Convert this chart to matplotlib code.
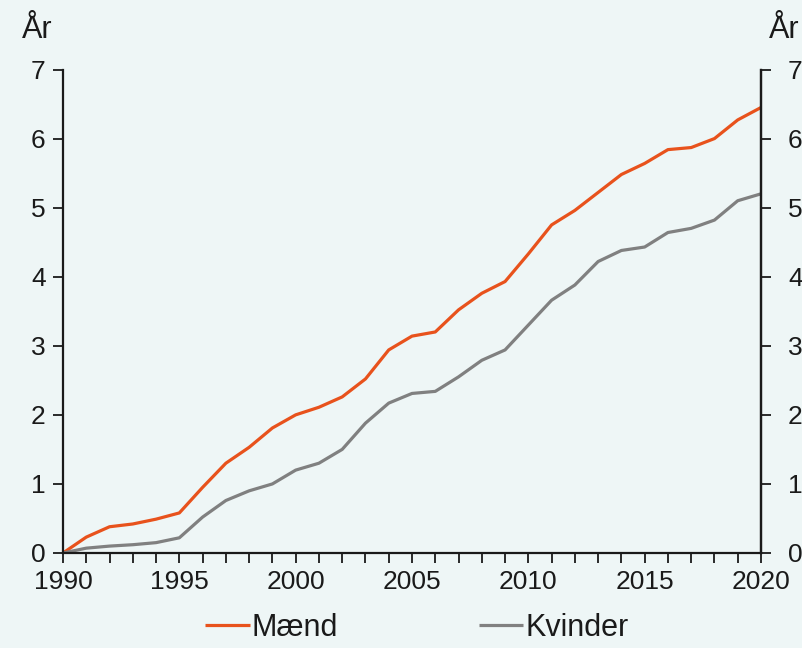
import matplotlib
matplotlib.use("Agg")
import matplotlib.pyplot as plt
import numpy as np

years = list(range(1990, 2021))
maend = [0.00, 0.23, 0.38, 0.42, 0.49, 0.58, 0.95, 1.30, 1.53, 1.81, 2.00, 2.11,
         2.26, 2.52, 2.94, 3.14, 3.20, 3.52, 3.76, 3.93, 4.33, 4.75, 4.96, 5.22,
         5.48, 5.64, 5.84, 5.87, 6.00, 6.27, 6.45]
kvinder = [0.00, 0.07, 0.10, 0.12, 0.15, 0.22, 0.52, 0.76, 0.90, 1.00, 1.20, 1.30,
           1.50, 1.88, 2.17, 2.31, 2.34, 2.55, 2.79, 2.94, 3.30, 3.66, 3.88, 4.22,
           4.38, 4.43, 4.64, 4.70, 4.82, 5.10, 5.20]
y_ticks = [0, 1, 2, 3, 4, 5, 6, 7]
x_labels = [1990, 1995, 2000, 2005, 2010, 2015, 2020]

bg = "#eef6f6"
orange = "#e8521c"
gray = "#808080"
txt = "#1a1a1a"

plt.rcParams['font.family'] = ['Liberation Sans', 'DejaVu Sans']
fs = 19
fs_big = 22

fig = plt.figure(figsize=(8.02, 6.48), dpi=100, facecolor=bg)
ax = fig.add_axes([63/802, 1-553/648, (761-63)/802, (553-69.5)/648])
ax.set_facecolor(bg)

ax.plot(years, maend, color=orange, lw=2.3, label="Mænd", solid_capstyle='butt')
ax.plot(years, kvinder, color=gray, lw=2.3, label="Kvinder", solid_capstyle='butt')

ax.set_xlim(1990, 2020)
ax.set_ylim(0, 7)
ax.set_xticks(years, minor=False)
ax.set_xticklabels([str(y) if y in x_labels else "" for y in years])
ax.set_yticks(y_ticks)
ax.set_yticklabels([str(v) for v in y_ticks])

ax.spines['top'].set_visible(False)
for s in ['left', 'bottom', 'right']:
    ax.spines[s].set_linewidth(1.6)
    ax.spines[s].set_color(txt)

ax.tick_params(axis='both', direction='out', length=7.5, width=1.3, colors=txt,
               labelsize=fs, labelcolor=txt)
ax.tick_params(axis='y', pad=5)
ax.tick_params(axis='x', pad=5)

ax2 = ax.twinx()
ax2.set_ylim(0, 7)
ax2.set_yticks(y_ticks)
ax2.set_yticklabels([str(v) for v in y_ticks])
for s in ['top', 'left', 'bottom']:
    ax2.spines[s].set_visible(False)
ax2.spines['right'].set_linewidth(1.6)
ax2.spines['right'].set_color(txt)
ax2.tick_params(axis='y', direction='out', length=7.5, width=1.3, colors=txt,
                labelsize=fs, labelcolor=txt, pad=12)

fig.text(22/802, 1-30/648, "År", fontsize=fs_big, color=txt, ha='left', va='center')
fig.text(769/802, 1-30/648, "År", fontsize=fs_big, color=txt, ha='left', va='center')

leg = ax.legend(loc='upper center', bbox_to_anchor=(0.507, -0.079), ncol=2,
                frameon=False, fontsize=fs_big, handlelength=1.45, handletextpad=0.07,
                columnspacing=4.6, labelcolor=txt, borderpad=0.2)

fig.savefig("out.png", dpi=100, facecolor=bg)
